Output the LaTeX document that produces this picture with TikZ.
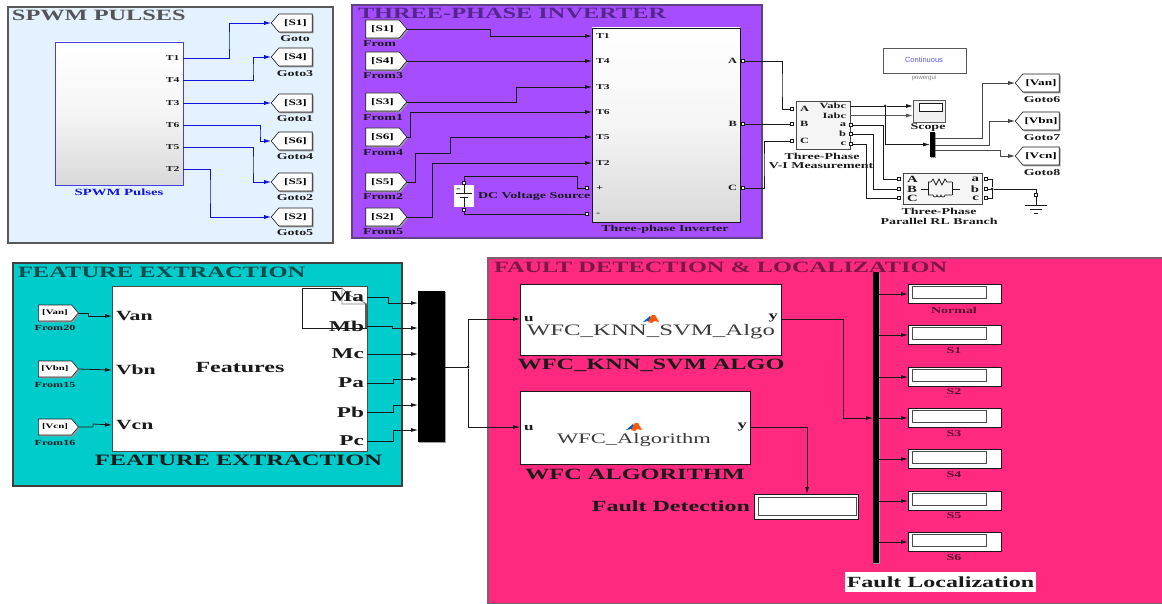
\documentclass[tikz,border=0pt]{standalone}
\usepackage{fontspec}
\usetikzlibrary{arrows.meta,shapes.symbols,shadows,decorations.pathmorphing}
\setmainfont{Liberation Serif}
\newfontfamily\wf[FakeStretch=1.55]{Liberation Serif}
\newfontfamily\gs{Liberation Sans}
\definecolor{pa}{HTML}{E3F2FE}
\definecolor{pb}{HTML}{A64DFF}
\definecolor{pc}{HTML}{00CCCC}
\definecolor{pd}{HTML}{FF2A80}
\definecolor{ta}{HTML}{555555}
\definecolor{tb}{HTML}{55278A}
\definecolor{tc}{HTML}{0B4A4C}
\definecolor{td}{HTML}{7A1848}
\definecolor{blu}{HTML}{1010E0}
\definecolor{ink}{HTML}{1A1A1A}
\newcommand\blk[6][]{%
  \pgfmathsetmacro\bw{#5-#3}\pgfmathsetmacro\bh{#6-#4}%
  \pgfmathsetmacro\bx{(#5+#3)/2}\pgfmathsetmacro\by{(#6+#4)/2}%
  \node[rectangle,outer sep=0pt,inner sep=0pt,minimum width=\bw pt,minimum height=\bh pt,#1] (#2) at (\bx,\by) {};}
\newcommand\mlicon[2]{%
  \begin{scope}[shift={(#1,#2)}]
    \fill[blue!55!cyan!80!black] (-8,3) -- (-1,-3) -- (1,1) -- (-3,2) -- cycle;
    \fill[orange!70!red] (-3,3) -- (1,-4) -- (4,-4) -- (8,3) -- (3,2) -- (1,4) -- cycle;
  \end{scope}}
\tikzset{
  lab/.style={font=\wf\bfseries\fontsize{#1}{#1}\selectfont,inner sep=0pt,outer sep=0pt,text=ink},
  reg/.style={font=\wf\fontsize{#1}{#1}\selectfont,inner sep=0pt,outer sep=0pt,text=ink!85},
  shad/.style={general shadow={shadow xshift=1.3pt,shadow yshift=-1.3pt,fill=gray!75}},
  panel/.style={draw=#1,line width=1.1pt},
  subsys/.style={draw=ink,line width=0.8pt,fill=white,shad},
  gotobox/.style={signal,signal to=west,signal pointer angle=100,draw=ink,fill=white,line width=0.6pt,
     minimum width=41pt,minimum height=18pt,inner sep=1pt,outer sep=0pt,shad,font=\wf\bfseries\fontsize{8.5}{8.5}\selectfont},
  frombox/.style={gotobox,signal to=east},
  wire/.style={draw=ink,line width=0.8pt},
  wa/.style={wire,-{Latex[length=7pt,width=4pt]}},
  bwa/.style={draw=blu,line width=0.9pt,-{Latex[length=7pt,width=4pt]}},
  cport/.style={rectangle,draw=ink,fill=white,line width=0.7pt,minimum width=3.5pt,minimum height=3pt,inner sep=0pt,outer sep=0pt},
  jdot/.style={circle,fill=ink,minimum size=3pt,inner sep=0pt,outer sep=0pt},
  bar/.style={fill=black,shad},
  dispbox/.style={draw=ink,fill=white,line width=0.8pt,shad},
  dispin/.style={draw=black!70,fill=white,line width=0.9pt},
}
\begin{document}
\begin{tikzpicture}[x=1pt,y=-1pt]
\useasboundingbox (0,0) rectangle (1162,604);
\fill[white] (0,0) rectangle (1162,604);

% panels
\blk[panel=gray!70!black,fill=pa]{pnA}{8}{7}{333}{243}
\blk[panel=tb!70!gray,fill=pb]{pnB}{352}{5}{762}{238}
\blk[panel=gray!50!black,fill=pc]{pnC}{13}{263}{402}{486}
\blk[panel=gray!70!td,fill=pd]{pnD}{488}{258}{1168}{604}
\node[lab=15.7,anchor=west,text=ta] (ttA) at (12,15.5) {SPWM PULSES};
\node[lab=15.7,anchor=west,text=tb] (ttB) at (358,13) {THREE-PHASE INVERTER};
\node[lab=15.8,anchor=west,text=tc] (ttC) at (18,272) {FEATURE EXTRACTION};
\node[lab=15.7,anchor=west,text=td] (ttD) at (494,267) {FAULT DETECTION \& LOCALIZATION};

% SPWM block
\blk[draw=blu!80,line width=0.8pt,top color=white,bottom color=gray!30,middle color=white!92!gray,shad]{sp}{55}{42}{183}{185}
\node[lab=9.5,text=blu] (spcap) at (119,192) {SPWM Pulses};
\foreach \n/\y in {T1/58,T4/80,T3/103,T6/125,T5/147,T2/169}{
  \coordinate (sp\n) at (183,\y);
  \node[lab=7.5,anchor=east] (spl\n) at (179.5,\y) {\n};
}
\foreach \n/\y/\g/\ly in {S1/23/Goto/39,S4/57/Goto3/74,S3/103/Goto1/119,S6/141/Goto4/157,S5/182/Goto2/198,S2/217/Goto5/233}{
  \node[gotobox] (g\n) at (295.5,\y) {[\n]};
  \node[lab=9] (gl\n) at (295,\ly) {\g};
}
\draw[bwa] (spT1) -| (229,40) |- (gS1.west);
\draw[bwa] (spT4) -| (253,70) |- (gS4.west);
\draw[bwa] (spT3) -- (gS3.west);
\draw[bwa] (spT6) -| (260,133) |- (gS6.west);
\draw[bwa] (spT5) -| (253,165) |- (gS5.west);
\draw[bwa] (spT2) -| (210,190) |- (gS2.west);

% Inverter
\blk[draw=ink,line width=0.8pt,top color=white,bottom color=gray!30,middle color=white!92!gray,shad]{inv}{592}{28}{740}{222}
\node[lab=9] (invcap) at (665,229.5) {Three-phase Inverter};
\foreach \n/\y in {T1/36,T4/61,T3/87,T6/112,T5/137,T2/163}{
  \coordinate (inv\n) at (592,\y);
  \node[lab=7.5,anchor=west] (invl\n) at (596,\y) {\n};
}
\foreach \n/\y/\g/\ly in {S1/29/From/44,S4/61/From3/76,S3/102/From1/118,S6/137/From4/153,S5/182/From2/197,S2/217/From5/232}{
  \node[frombox] (f\n) at (382.5,\y) {[\n]};
  \node[lab=9,anchor=west] (fl\n) at (363,\ly) {\g};
}
\draw[wa] (fS1.east) -| (490,36) -- (invT1);
\draw[wa] (fS4.east) -- (invT4);
\draw[wa] (fS3.east) -| (516,87) -- (invT3);
\draw[wa] (fS6.east) -| (410,112) -- (invT6);
\draw[wa] (fS5.east) -| (415,153) -| (450,137) -- (invT5);
\draw[wa] (fS2.east) -| (432,163) -- (invT2);
% DC source
\blk[fill=white]{dc}{454}{185}{474}{207}
\draw[ink,line width=1pt] (464,185) -- (464,193);
\draw[ink,line width=1pt] (456,193.5) -- (472,193.5);
\draw[ink,line width=1pt] (460,198) -- (468,198);
\draw[ink,line width=1pt] (464,198) -- (464,207);
\node[lab=9] (dcm) at (458.5,190) {-};
\node[cport] (dcp) at (464,183) {};
\node[cport] (dcn) at (464,210) {};
\node[lab=9,anchor=west] (dcl) at (478,196.5) {DC Voltage Source};
\node[cport] (invP) at (587,188) {};
\node[cport] (invN) at (587,214) {};
\node[lab=8,anchor=west] (invPl) at (596,188) {+};
\node[lab=8,anchor=west] (invNl) at (596,214) {-};
\draw[wire] (dcp.north) |- (577,176) |- (invP.west);
\draw[wire] (dcn.south) |- (invN.west);
\foreach \n/\y in {A/61,B/124,C/188}{
  \node[cport] (inv\n) at (743,\y) {};
  \node[lab=8,anchor=east] (invl\n) at (737,\y) {\n};
}

% V-I measurement
\blk[draw=ink!80,fill=gray!8,line width=0.8pt,shad]{vi}{796}{101}{850}{149}
\foreach \n/\y in {A/109,B/124,C/141}{
  \node[cport] (viI\n) at (792,\y) {};
  \node[lab=8,anchor=west] (vil\n) at (800,\y) {\n};
}
\node[lab=8,anchor=east] (vlV) at (846,106) {Vabc};
\node[lab=8,anchor=east] (vlI) at (846,115.5) {Iabc};
\foreach \n/\y in {a/125,b/134,c/144}{
  \node[cport] (vio\n) at (851,\y) {};
  \node[lab=8,anchor=east] (viol\n) at (846,\y) {\n};
}
\coordinate (vioV) at (850,106);
\coordinate (vioI) at (850,115.5);
\node[lab=9] (vic1) at (822,156) {Three-Phase};
\node[lab=9] (vic2) at (821,166) {V-I Measurement};
\draw[wire] (invA.east) -| (782,85) |- (viIA.west);
\draw[wire] (invB.east) -- (viIB.west);
\draw[wire] (invC.east) -| (764,165) |- (viIC.west);

% powergui
\blk[draw=gray!70!black,fill=white,line width=0.7pt,shad]{pg}{883}{48}{966}{73}
\node[font=\gs\fontsize{7.5}{7.5}\selectfont,text=blue!65,inner sep=0pt] (pgt) at (924,60) {Continuous};
\node[font=\gs\fontsize{6}{6}\selectfont,text=gray,inner sep=0pt] (pgl) at (924,78) {powergui};

% Scope
\blk[draw=gray!70!black,fill=gray!12,line width=0.9pt,shad]{sc}{913}{100}{945}{122}
\blk[draw=ink,fill=white,line width=0.8pt]{scs}{919}{103}{942}{111}
\coordinate (scV) at (913,106);
\coordinate (scI) at (913,115.5);
\node[lab=9] (sccap) at (928,127.5) {Scope};
\blk[bar]{dm}{930}{132}{935}{157}
\coordinate (dmi) at (930,144.5);
\node[jdot] (jv) at (885,106) {};
\draw[wa] (vioV) -- (jv) -- (scV);
\draw[wa,draw=gray!70!black] (vioI) -- (scI);
\draw[wa] (jv) |- (dmi);

% Goto Van...
\foreach \n/\y/\g/\ly in {Van/83/Goto6/100,Vbn/121/Goto7/138,Vcn/156/Goto8/173}{
  \node[gotobox,minimum width=44pt] (g\n) at (1041,\y) {[\n]};
  \node[lab=9] (gl\n) at (1042,\ly) {\g};
}
\draw[wa,draw=ink!80] (935,138) -| (982,110) |- (gVan.west);
\draw[wa,draw=ink!80] (935,145) -| (989,133) |- (gVbn.west);
\draw[wa,draw=ink!80] (935,150) -| (1000,153) |- (gVcn.west);

% RL branch
\blk[draw=ink!80,fill=gray!8,line width=0.8pt,shad]{rl}{903}{173}{982}{204}
\foreach \n/\y in {A/179,B/189,C/198}{
  \node[cport] (rlI\n) at (899,\y) {};
  \node[lab=9.5,anchor=west] (rll\n) at (907,\y) {\n};
}
\foreach \n/\y in {a/179,b/189,c/198}{
  \node[cport] (rlo\n) at (986,\y) {};
  \node[lab=9.5,anchor=east] (rlol\n) at (979,\y) {\n};
}
\draw[ink,line width=0.7pt] (921,189) -- (928,189) (928,182) -- (928,195) (952,182) -- (952,195) (952,189) -- (960,189);
\draw[ink,line width=0.7pt] (928,182) -- (931,182) -- (933,179) -- (936,185) -- (939,179) -- (942,185) -- (945,179) -- (947,182) -- (952,182);
\draw[ink,line width=0.7pt] (928,195) -- (933,195) arc[start angle=180,end angle=0,radius=2] arc[start angle=180,end angle=0,radius=2] arc[start angle=180,end angle=0,radius=2] -- (952,195);
\node[lab=9] (rlc1) at (939,211) {Three-Phase};
\node[lab=9] (rlc2) at (939,221) {Parallel RL Branch};
\draw[wire] (vioa.east) -| (883,150) |- (rlIA.west);
\draw[wire] (viob.east) -| (873,160) |- (rlIB.west);
\draw[wire] (vioc.east) -| (866,170) |- (rlIC.west);
\node[jdot] (jg) at (992,189) {};
\draw[wire] (rloa.east) -| (jg) |- (rloc.east);
\node[cport] (gp) at (1036,195) {};
\coordinate (gt) at (1036,205);
\draw[wire] (rlob.east) -- (jg) -| (gp.north);
\draw[wire] (gp.south) -- (gt);
\draw[ink,line width=0.8pt] (1025,205) -- (1047,205) (1030,209.5) -- (1042,209.5) (1034,213.5) -- (1038,213.5);

% Feature extraction
\blk[draw=gray!60!black,line width=0.8pt,fill=white,shad]{fe}{112}{286}{367}{451}
\draw[ink,line width=0.8pt] (342,288) -- (302,288) -- (302,328) -- (367,328);
\draw[gray,line width=0.7pt] (342,288) -- (349,295) -- (367,304) -- (342,304) -- cycle;
\draw[gray!70!black,line width=1.6pt] (366,304) -- (366,328);
\foreach \n/\y in {Van/316,Vbn/370,Vcn/425}{
  \coordinate (fe\n) at (112,\y);
  \node[lab=14,anchor=west] (fel\n) at (116,\y) {\n};
}
\node[lab=15.5] (fef) at (240,368) {Features};
\node[lab=15.8] (fec) at (238.5,460) {FEATURE EXTRACTION};
\foreach \n/\y in {Ma/297,Mb/326,Mc/354,Pa/383,Pb/412,Pc/441}{
  \coordinate (feo\n) at (367,\y);
  \node[lab=15,anchor=east] (fel\n) at (364,\y) {\n};
}
\foreach \n/\y/\g/\ly in {Van/313/From20/328,Vbn/369/From15/385,Vcn/427/From16/443}{
  \node[frombox,minimum width=40pt,minimum height=16pt,font=\wf\bfseries\fontsize{7}{7}\selectfont] (f\n) at (55,\y) {[\n]};
  \node[lab=7.8] (fl\n) at (55,\ly) {\g};
}
\draw[wa] (fVan.east) -| (88,316) -- (feVan);
\draw[wa] (fVbn.east) -- (feVbn);
\draw[wa] (fVcn.east) -| (93,424) -- (feVcn);
\blk[bar]{mx}{418}{291}{445}{442}
\foreach \n/\y in {a/303,b/328,c/354,d/379,e/405,f/430}{\coordinate (mx\n) at (418,\y);}
\draw[wa] (feoMa) -| (388,303) -- (mxa);
\draw[wa] (feoMb) -| (392,328) -- (mxb);
\draw[wa] (feoMc) -- (mxc);
\draw[wa] (feoPa) -| (393,379) -- (mxd);
\draw[wa] (feoPb) -| (393,405) -- (mxe);
\draw[wa] (feoPc) -| (393,430) -- (mxf);
\coordinate (mxo) at (445,367);
\node[jdot] (jm) at (468,367) {};
\draw[wire] (mxo) -- (jm);

% Algorithm blocks
\blk[subsys]{al}{520}{284}{781}{355}
\blk[subsys]{wf}{520}{391}{750}{464}
\coordinate (alu) at (520,319);
\coordinate (aly) at (781,319);
\coordinate (wfu) at (520,427);
\coordinate (wfy) at (750,427);
\draw[wa] (jm) |- (alu);
\draw[wa] (jm) |- (wfu);
\node[lab=11,anchor=west] (alul) at (524,319) {u};
\node[lab=12,anchor=east] (alyl) at (778,318) {y};
\node[lab=11,anchor=west] (wful) at (524,428) {u};
\node[lab=12,anchor=east] (wfyl) at (747,427) {y};
\mlicon{651}{319}
\mlicon{634}{427}
\node[reg=16] (alt) at (651,332) {WFC\_KNN\_SVM\_Algo};
\node[reg=14.5] (wft) at (634,440) {WFC\_Algorithm};
\node[lab=15.7] (alc) at (651,365.5) {WFC\_KNN\_SVM ALGO};
\node[lab=15.7] (wfc) at (635,474.5) {WFC ALGORITHM};

% Fault Detection display
\blk[dispbox]{fd}{754}{494}{858}{519}
\blk[dispin]{fdi}{758}{497}{856}{515}
\node[lab=15.5,anchor=east] (fdl) at (750,506) {Fault Detection};
\draw[wa] (wfy) -| (fd.north -| 807,0);

% Output bar
\blk[bar]{ob}{873}{272}{879}{563}
\coordinate (obi) at (873,418);
\draw[wa] (aly) -| (843,400) |- (obi);
\foreach \n/\y/\ly in {Normal/294/310,S1/335/351,S2/377/392,S3/418/434,S4/459/475,S5/501/516,S6/542/558}{
  \pgfmathsetmacro\ya{\y-10}\pgfmathsetmacro\yb{\y+9}\pgfmathsetmacro\yc{\y-8}\pgfmathsetmacro\yd{\y+4}
  \blk[dispbox]{d\n}{908}{\ya}{1001}{\yb}
  \blk[dispin]{di\n}{912}{\yc}{986}{\yd}
  \coordinate (oo\n) at (879,\y);
  \coordinate (ii\n) at (908,\y);
  \draw[wa] (oo\n) -- (ii\n);
  \node[lab=9,text=td!70!black] (dl\n) at (954,\ly) {\n};
}
\node[lab=15.5,fill=white,minimum width=191pt,minimum height=20pt] (fll) at (940.5,582) {Fault Localization};
\end{tikzpicture}
\end{document}
